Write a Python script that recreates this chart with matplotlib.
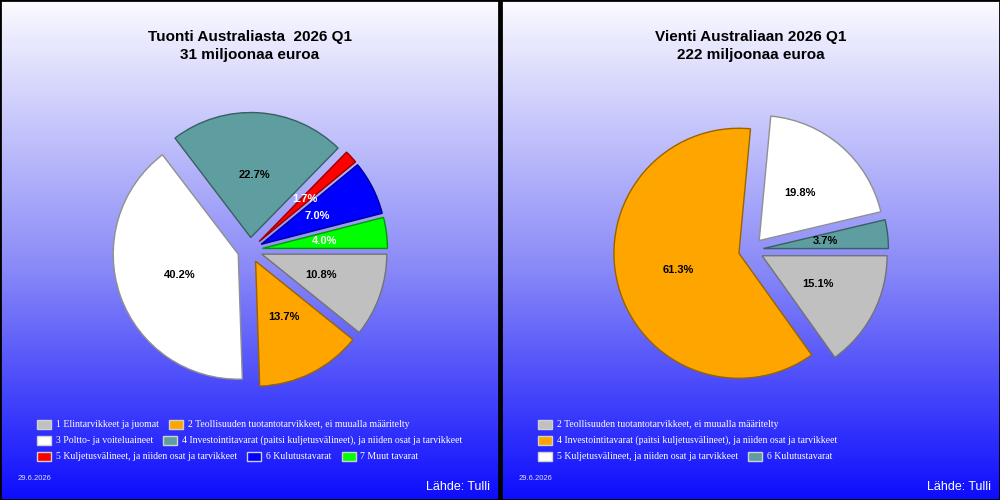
import numpy as np
import matplotlib.pyplot as plt
import matplotlib.patches as mpatches
import matplotlib.colors as mcolors

# Tuonti (import) data, order as drawn clockwise from 3 o'clock
imp_labels = ['1 Elintarvikkeet ja juomat',
              '2 Teollisuuden tuotantotarvikkeet, ei muualla määritelty',
              '3 Poltto- ja voiteluaineet',
              '4 Investointitavarat (paitsi kuljetusvälineet), ja niiden osat ja tarvikkeet',
              '5 Kuljetusvälineet, ja niiden osat ja tarvikkeet',
              '6 Kulutustavarat',
              '7 Muut tavarat']
imp_values = [10.8, 13.7, 40.2, 22.7, 1.7, 7.0, 4.0]
imp_colors = ['#c0c0c0', '#ffa500', '#ffffff', '#5f9ea0', '#ff0000', '#0000ff', '#00ff00']
imp_txt = ['black', 'black', 'black', 'black', 'white', 'white', 'white']

# Vienti (export) data
exp_labels = ['2 Teollisuuden tuotantotarvikkeet, ei muualla määritelty',
              '4 Investointitavarat (paitsi kuljetusvälineet), ja niiden osat ja tarvikkeet',
              '5 Kuljetusvälineet, ja niiden osat ja tarvikkeet',
              '6 Kulutustavarat']
exp_values = [15.1, 61.3, 19.8, 3.7]
exp_colors = ['#c0c0c0', '#ffa500', '#ffffff', '#5f9ea0']
exp_txt = ['black', 'black', 'black', 'black']

titles = ['Tuonti Australiasta  2026 Q1\n31 miljoonaa euroa',
          'Vienti Australiaan 2026 Q1\n222 miljoonaa euroa']
date_txt = '29.6.2026'
source_txt = 'Lähde: Tulli'

W, H = 1000, 500
fig = plt.figure(figsize=(10, 5), dpi=100)
grad = mcolors.LinearSegmentedColormap.from_list('g', ['#fafaff', '#8c8cf8', '#0000ff'])


def edge_of(c):
    if c == '#ffffff':
        return '#909090'
    r, g, b = mcolors.to_rgb(c)
    return (r * 0.6, g * 0.6, b * 0.6)


def panel(x0, labels, values, colors, txtcols, title):
    # background with gradient and black frame
    bg = fig.add_axes([x0 / W, 0, 499 / W, 1])
    bg.imshow(np.linspace(0, 1, 256).reshape(-1, 1), aspect='auto', cmap=grad,
              extent=[0, 1, 0, 1], vmin=0, vmax=1.05)
    bg.set_xlim(0, 1)
    bg.set_ylim(0, 1)
    bg.set_xticks([])
    bg.set_yticks([])
    for s in bg.spines.values():
        s.set_color('black')
        s.set_linewidth(2)

    cx = x0 + 250
    fig.text(cx / W, 1 - 46 / H, title, ha='center', va='center', fontsize=11,
             fontweight='bold', family='Liberation Sans', linespacing=1.3)

    # pie
    ax = fig.add_axes([(cx - 150) / W, (250 - 150) / H, 300 / W, 300 / H])
    wedges, texts, autotexts = ax.pie(values, colors=colors, startangle=0,
                                      counterclock=False, explode=[0.1] * len(values),
                                      autopct='%.1f%%', pctdistance=0.5,
                                      wedgeprops=dict(linewidth=1))
    for w, c in zip(wedges, colors):
        w.set_edgecolor(edge_of(c))
    for t, c, v in zip(autotexts, txtcols, values):
        t.set_text(f'{v:.1f}%')
        t.set_color(c)
        t.set_fontsize(8)
        t.set_fontweight('bold')
        t.set_family('Liberation Sans')
    ax.set_xlim(-1.2, 1.2)
    ax.set_ylim(-1.2, 1.2)
    ax.set_aspect('equal')
    ax.axis('off')

    # flow legend
    renderer = fig.canvas.get_renderer()
    x, row = x0 + 37, 0
    for lab, c in zip(labels, colors):
        t = fig.text(0, 0, lab, fontsize=7, family='Liberation Serif', color='white',
                     va='center')
        tw = t.get_window_extent(renderer).width
        if x + 19 + tw > x0 + 480:
            x, row = x0 + 37, row + 1
        y = 424 + row * 16
        fig.patches.append(mpatches.Rectangle(((x) / W, 1 - (y + 4.5) / H), 14 / W, 9 / H,
                                              transform=fig.transFigure, facecolor=c,
                                              edgecolor='#d0d0d0', linewidth=1))
        t.set_position(((x + 19) / W, 1 - (y + 0.5) / H))
        x += 19 + tw + 10

    fig.text((x0 + 18) / W, 1 - 478 / H, date_txt, fontsize=5.5, color='#e0e0ff',
             family='Liberation Sans', va='center')
    fig.text((x0 + 490) / W, 1 - 487 / H, source_txt, fontsize=9, color='white',
             family='Liberation Sans', va='center', ha='right')


panel(0, imp_labels, imp_values, imp_colors, imp_txt, titles[0])
panel(501, exp_labels, exp_values, exp_colors, exp_txt, titles[1])

fig.savefig('out.png', dpi=100)
